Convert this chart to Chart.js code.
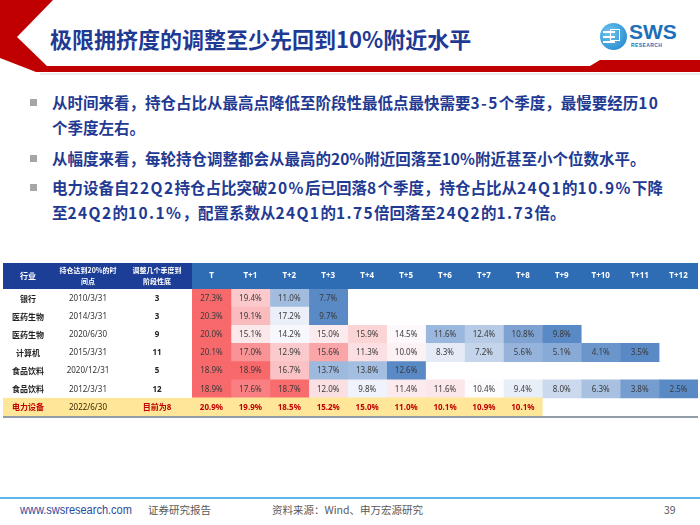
<!DOCTYPE html>
<html>
<head>
<meta charset="utf-8">
<script src="https://cdn.jsdelivr.net/npm/chart.js@4.4.1/dist/chart.umd.min.js"></script>
<style>
  body { margin: 0; width: 700px; height: 525px; overflow: hidden; background: #fff; position: relative; font-family: "Noto Sans CJK SC", "Noto Sans", sans-serif; }
  .title { position: absolute; left: 50px; top: 25px; font-size: 22px; line-height: 26px; font-weight: bold; color: #1f3a93; white-space: nowrap; }
  .bullet { position: absolute; left: 52px; font-size: 15.5px; line-height: 25px; font-weight: bold; color: #1f3a93; white-space: nowrap; }
  .bullet::before { content: ""; position: absolute; left: -22px; top: 9px; width: 7px; height: 7px; background: #a6a6a6; }
  .bullet .n { letter-spacing: 1.4px; }
  .foot { position: absolute; top: 502px; font-size: 10.5px; line-height: 16px; color: #595959; white-space: nowrap; }
  #table { position: absolute; left: 0; top: 255px; }
</style>
</head>
<body>
<svg width="700" height="80" style="position:absolute;left:0;top:0">
  <polygon points="0,0 53,0 17,37 47,66 590,66 600,60 700,60 700,72 36,72 0,58" fill="#c00000"/>
  <line x1="40" y1="74" x2="700" y2="74" stroke="#e6e6e6" stroke-width="1.5"/>
</svg>
<div class="title">极限拥挤度的调整至少先回到10%附近水平</div>

<div style="position:absolute;left:600px;top:23px;width:27px;height:27px;border-radius:50%;background:radial-gradient(circle at 35% 35%, #6cc6f0, #1b7fc8);"></div>
<div style="position:absolute;left:603px;top:31px;width:12px;height:2px;background:#fff"></div>
<div style="position:absolute;left:603px;top:36px;width:12px;height:2px;background:#fff"></div>
<div style="position:absolute;left:603px;top:41px;width:12px;height:2px;background:#fff"></div>
<div style="position:absolute;left:610px;top:29px;width:10px;height:12px;border:1.5px solid #fff;box-sizing:border-box"></div>
<div style="position:absolute;left:629px;top:20px;font-family:'Liberation Sans',sans-serif;font-weight:bold;font-size:21px;line-height:24px;color:#1c6fb8">SWS</div>
<div style="position:absolute;left:631px;top:42px;font-family:'Liberation Sans',sans-serif;font-weight:bold;font-size:5px;line-height:6px;color:#1c6fb8;letter-spacing:0.4px">RESEARCH</div>

<div class="bullet" style="top:90px">从时间来看，持仓占比从最高点降低至阶段性最低点最快需要<span class="n">3-5</span>个季度，最慢要经历<span class="n">10</span><br>个季度左右。</div>
<div class="bullet" style="top:146px">从幅度来看，每轮持仓调整都会从最高的20%附近回落至10%附近甚至小个位数水平。</div>
<div class="bullet" style="top:175px">电力设备自<span class="n">22Q2</span>持仓占比突破<span class="n">20%</span>后已回落<span class="n">8</span>个季度，持仓占比从<span class="n">24Q1</span>的<span class="n">10.9%</span>下降<br>至<span class="n">24Q2</span>的<span class="n">10.1%</span>，配置系数从<span class="n">24Q1</span>的<span class="n">1.75</span>倍回落至<span class="n">24Q2</span>的<span class="n">1.73</span>倍。</div>

<canvas id="table" width="700" height="175"></canvas>

<div style="position:absolute;left:0;top:497px;width:700px;height:1.5px;background:#5db7e8"></div>
<div class="foot" style="left:20px;font-family:'Liberation Sans',sans-serif;font-size:12.5px;color:#2b4c9e;transform:scaleX(0.88);transform-origin:left center">www.swsresearch.com</div>
<div class="foot" style="left:148px">证券研究报告</div>
<div class="foot" style="left:272px">资料来源：Wind、申万宏源研究</div>
<div class="foot" style="left:664px">39</div>

<script>
// table columns
const industries = ['银行', '医药生物', '医药生物', '计算机', '食品饮料', '食品饮料', '电力设备'];
const startDates = ['2010/3/31', '2014/3/31', '2020/6/30', '2015/3/31', '2020/12/31', '2012/3/31', '2022/6/30'];
const quartersToBottom = ['3', '3', '9', '11', '5', '12', '目前为8'];
const colLabels = ['T', 'T+1', 'T+2', 'T+3', 'T+4', 'T+5', 'T+6', 'T+7', 'T+8', 'T+9', 'T+10', 'T+11', 'T+12'];

// holding share (%) by quarter after reaching 20%
const bank2010 = [27.3, 19.4, 11.0, 7.7];
const pharma2014 = [20.3, 19.1, 17.2, 9.7];
const pharma2020 = [20.0, 15.1, 14.2, 15.0, 15.9, 14.5, 11.6, 12.4, 10.8, 9.8];
const computer2015 = [20.1, 17.0, 12.9, 15.6, 11.3, 10.0, 8.3, 7.2, 5.6, 5.1, 4.1, 3.5];
const food2020 = [18.9, 18.9, 16.7, 13.7, 13.8, 12.6];
const food2012 = [18.9, 17.6, 18.7, 12.0, 9.8, 11.4, 11.6, 10.4, 9.4, 8.0, 6.3, 3.8, 2.5];
const power2022 = [20.9, 19.9, 18.5, 15.2, 15.0, 11.0, 10.1, 10.9, 10.1];

const valueRows = [bank2010, pharma2014, pharma2020, computer2015, food2020, food2012, power2022];
const highlightRow = 6;

const RED = [248, 105, 107], WHITE = [252, 252, 255], BLUE = [90, 138, 198];

function median(arr) {
    const s = arr.slice().sort((a, b) => a - b);
    const m = Math.floor(s.length / 2);
    return s.length % 2 ? s[m] : (s[m - 1] + s[m]) / 2;
}

function mix(a, b, t) {
    return 'rgb(' + a.map((v, k) => Math.round(v + (b[k] - v) * t)).join(',') + ')';
}

// red-white-blue scale per row (min / median / max)
function cellColor(i, j) {
    if (i === highlightRow) return '#ffe699';
    const row = valueRows[i];
    const v = row[j];
    const lo = Math.min(...row), hi = Math.max(...row), mid = median(row);
    if (v >= mid) return mix(WHITE, RED, hi === mid ? 0 : (v - mid) / (hi - mid));
    return mix(WHITE, BLUE, (mid - v) / (mid - lo));
}

const datasets = colLabels.map((lab, j) => ({
    label: lab,
    data: valueRows.map(r => j < r.length ? [j, j + 1] : null),
    backgroundColor: c => cellColor(c.dataIndex, j),
}));

const leftCols = [28, 88, 157];
const tableLeft = 3;

const tablePlugin = {
    id: 'tablePlugin',
    beforeDatasetsDraw(chart) {
        const { ctx, chartArea, scales: { y } } = chart;
        const band = y.height / industries.length;
        ctx.save();
        ctx.fillStyle = '#1c3e97';
        ctx.fillRect(tableLeft, chartArea.top - 26, chartArea.left - tableLeft, 26);
        ctx.fillStyle = '#2e6db4';
        ctx.fillRect(chartArea.left, chartArea.top - 26, chartArea.right - chartArea.left, 26);
        ctx.fillStyle = '#ffe699';
        ctx.fillRect(tableLeft, y.getPixelForValue(highlightRow) - band / 2, chartArea.left - tableLeft, band);
        ctx.restore();
    },
    afterDatasetsDraw(chart) {
        const { ctx, chartArea, scales: { x, y } } = chart;
        const band = y.height / industries.length;
        const hy = chartArea.top - 13;
        ctx.save();
        ctx.textAlign = 'center';
        ctx.textBaseline = 'middle';

        // header
        ctx.fillStyle = '#fff';
        ctx.font = 'bold 8px "Noto Sans CJK SC"';
        ctx.fillText('行业', leftCols[0], hy);
        ctx.font = 'bold 7px "Noto Sans CJK SC"';
        ctx.fillText('持仓达到20%的时', leftCols[1], hy - 6);
        ctx.fillText('间点', leftCols[1], hy + 5);
        ctx.fillText('调整几个季度到', leftCols[2], hy - 6);
        ctx.fillText('阶段性底', leftCols[2], hy + 5);
        ctx.font = 'bold 8px "Noto Sans", "Noto Sans CJK SC"';
        colLabels.forEach((lab, j) => ctx.fillText(lab, x.getPixelForValue(j + 0.5), hy));

        // rows
        industries.forEach((name, i) => {
            const cy = y.getPixelForValue(i) + 0.5;
            const hl = i === highlightRow;
            ctx.fillStyle = hl ? '#c00000' : '#222';
            ctx.font = 'bold 8px "Noto Sans CJK SC"';
            ctx.fillText(name, leftCols[0], cy);
            ctx.fillStyle = hl ? '#3a2a00' : '#333';
            ctx.font = '8px "Noto Sans", "Noto Sans CJK SC"';
            ctx.fillText(startDates[i], leftCols[1], cy);
            ctx.fillStyle = hl ? '#c00000' : '#222';
            ctx.font = 'bold 8px "Noto Sans", "Noto Sans CJK SC"';
            ctx.fillText(quartersToBottom[i], leftCols[2], cy);

            ctx.fillStyle = hl ? '#c00000' : '#3a3a3a';
            ctx.font = (hl ? 'bold ' : '') + '8px "Noto Sans"';
            valueRows[i].forEach((v, j) => {
                ctx.fillText(v.toFixed(1) + '%', x.getPixelForValue(j + 0.5), cy);
            });
        });

        // bottom rule
        ctx.strokeStyle = '#6f7b8c';
        ctx.lineWidth = 1.5;
        ctx.beginPath();
        ctx.moveTo(tableLeft, y.getPixelForValue(industries.length - 1) + band / 2 + 1);
        ctx.lineTo(chartArea.right, y.getPixelForValue(industries.length - 1) + band / 2 + 1);
        ctx.stroke();
        ctx.restore();
    }
};

new Chart(document.getElementById('table').getContext('2d'), {
    type: 'bar',
    data: { labels: industries, datasets: datasets },
    options: {
        indexAxis: 'y',
        responsive: false,
        animation: false,
        layout: { padding: { left: 192, right: 2, top: 34, bottom: 14 } },
        datasets: { bar: { grouped: false, categoryPercentage: 1, barPercentage: 1, borderWidth: 0 } },
        scales: {
            x: { type: 'linear', min: 0, max: 13, display: false },
            y: { display: false }
        },
        plugins: { legend: { display: false }, tooltip: { enabled: false } }
    },
    plugins: [tablePlugin]
});
</script>
</body>
</html>
